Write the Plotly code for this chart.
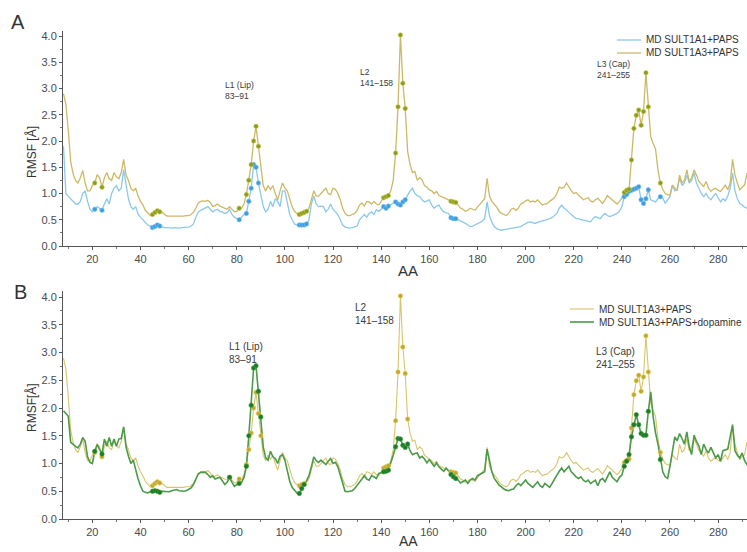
import plotly.graph_objects as go

# Residue numbering shown on the AA axis
residues = list(range(8, 294))

# RMSF per residue [Å]
rmsf_sult1a1_paps = [
    1.90, 1.00, 0.95, 0.90, 0.85, 0.80, 0.80, 0.85, 1.00, 1.05,
    0.85, 0.70, 0.65, 0.70, 0.75, 0.72, 0.68, 0.80, 0.90, 0.80,
    1.00, 1.10, 1.15, 1.05, 1.10, 1.45, 1.20, 0.90, 0.75, 0.70,
    0.75, 0.60, 0.55, 0.50, 0.45, 0.40, 0.38, 0.35, 0.37, 0.40,
    0.38, 0.36, 0.35, 0.35, 0.34, 0.34, 0.35, 0.34, 0.34, 0.35,
    0.35, 0.35, 0.36, 0.38, 0.42, 0.55, 0.65, 0.68, 0.70, 0.72,
    0.75, 0.70, 0.65, 0.68, 0.70, 0.66, 0.65, 0.62, 0.64, 0.70,
    0.60, 0.55, 0.52, 0.50, 0.55, 0.60, 0.62, 0.85, 1.10, 1.55,
    1.50, 1.20, 1.00, 0.75, 0.65, 0.70, 0.85, 0.75, 0.90, 0.85,
    0.75, 1.05, 1.05, 0.85, 0.60, 0.50, 0.42, 0.40, 0.40, 0.40,
    0.40, 0.42, 0.50, 0.80, 0.95, 0.80, 0.75, 0.76, 0.75, 0.65,
    0.70, 0.80, 0.70, 0.65, 0.60, 0.50, 0.40, 0.36, 0.35, 0.34,
    0.35, 0.36, 0.38, 0.50, 0.55, 0.60, 0.55, 0.62, 0.65, 0.60,
    0.69, 0.66, 0.70, 0.75, 0.72, 0.76, 0.78, 0.82, 0.84, 0.80,
    0.78, 0.84, 0.88, 0.97, 1.05, 1.10, 1.00, 0.96, 0.94, 0.88,
    0.84, 0.86, 0.88, 0.78, 0.72, 0.76, 0.78, 0.70, 0.65, 0.63,
    0.62, 0.54, 0.52, 0.52, 0.50, 0.48, 0.45, 0.43, 0.40, 0.37,
    0.38, 0.40, 0.42, 0.44, 0.47, 0.52, 0.84, 0.58, 0.45, 0.37,
    0.33, 0.31, 0.30, 0.31, 0.32, 0.33, 0.33, 0.34, 0.35, 0.36,
    0.37, 0.40, 0.43, 0.45, 0.46, 0.44, 0.43, 0.45, 0.47, 0.48,
    0.49, 0.50, 0.52, 0.54, 0.58, 0.62, 0.72, 0.78, 0.72, 0.69,
    0.64, 0.59, 0.56, 0.52, 0.52, 0.50, 0.49, 0.48, 0.47, 0.46,
    0.52, 0.56, 0.54, 0.52, 0.58, 0.62, 0.58, 0.56, 0.58, 0.60,
    0.62, 0.66, 0.75, 0.94, 0.98, 1.04, 1.06, 1.08, 1.10, 1.13,
    0.88, 0.81, 0.90, 1.07, 0.88, 0.86, 0.84, 0.90, 0.94, 0.92,
    0.81, 0.88, 0.94, 1.16, 1.05, 1.07, 1.30, 1.15, 1.20, 1.35,
    1.20, 1.25, 1.39, 1.20, 1.10, 1.00, 0.94, 1.00, 0.92, 0.88,
    0.95, 1.00, 0.92, 0.84, 0.90, 0.86, 0.95, 1.10, 1.39, 1.05,
    0.90, 0.81, 0.78, 0.74, 0.72, 0.72,
]

rmsf_sult1a3_paps = [
    2.90, 2.70, 2.20, 1.60, 1.38, 1.25, 1.20, 1.30, 1.44, 1.20,
    1.05, 1.05, 1.15, 1.20, 1.36, 1.30, 1.12, 1.30, 1.40, 1.28,
    1.25, 1.40, 1.32, 1.28, 1.40, 1.65, 1.35, 1.25, 1.10, 1.05,
    1.10, 0.95, 0.85, 0.78, 0.68, 0.62, 0.58, 0.60, 0.64, 0.67,
    0.65, 0.64, 0.60, 0.57, 0.57, 0.57, 0.56, 0.57, 0.57, 0.56,
    0.57, 0.58, 0.58, 0.60, 0.64, 0.72, 0.82, 0.85, 0.86, 0.85,
    0.87, 0.83, 0.75, 0.77, 0.80, 0.76, 0.74, 0.72, 0.70, 0.75,
    0.70, 0.65, 0.66, 0.72, 0.72, 0.80, 0.98, 1.25, 1.55, 2.00,
    2.28, 1.90, 1.50, 1.15, 1.05, 1.15, 1.08, 1.15, 1.00, 0.88,
    1.05, 1.20, 1.10, 1.05, 0.90, 0.75, 0.66, 0.62, 0.60, 0.62,
    0.64, 0.66, 0.72, 0.90, 1.05, 0.95, 0.95, 1.00, 1.05, 1.10,
    1.00, 0.98, 1.10, 1.08, 1.00, 0.88, 0.72, 0.62, 0.58, 0.58,
    0.60, 0.62, 0.68, 0.78, 0.82, 0.76, 0.85, 0.84, 0.80, 0.85,
    0.80, 0.78, 0.85, 0.92, 0.94, 0.96, 1.05, 1.25, 1.77, 2.65,
    4.02, 3.10, 2.62, 1.80, 1.55, 1.40, 1.42, 1.25, 1.30, 1.26,
    1.15, 1.12, 1.07, 1.05, 1.00, 1.04, 0.96, 0.94, 0.93, 0.90,
    0.88, 0.85, 0.84, 0.83, 0.78, 0.72, 0.70, 0.66, 0.68, 0.72,
    0.70, 0.68, 0.74, 0.80, 0.84, 0.90, 1.29, 0.95, 0.85, 0.80,
    0.74, 0.66, 0.62, 0.60, 0.58, 0.62, 0.70, 0.72, 0.68, 0.72,
    0.80, 0.82, 0.86, 0.88, 0.84, 0.86, 0.84, 0.88, 0.82, 0.78,
    0.80, 0.81, 0.85, 0.88, 0.92, 1.00, 1.12, 1.10, 1.12, 1.20,
    1.12, 1.05, 1.00, 1.02, 0.97, 0.92, 0.88, 0.90, 0.92, 0.86,
    0.84, 0.88, 0.91, 0.86, 0.81, 0.88, 0.96, 0.92, 0.88, 0.84,
    0.80, 0.85, 0.91, 1.02, 1.06, 1.08, 1.64, 2.24, 2.49, 2.59,
    2.30, 2.56, 3.30, 2.65, 2.08, 1.95, 1.85, 1.45, 1.20, 1.08,
    1.00, 0.98, 0.97, 1.16, 1.10, 1.07, 1.35, 1.20, 1.25, 1.45,
    1.23, 1.30, 1.45, 1.35, 1.23, 1.18, 1.13, 1.23, 1.10, 1.04,
    1.08, 1.10, 1.06, 1.04, 1.10, 1.16, 1.07, 1.20, 1.65, 1.35,
    1.20, 1.07, 1.12, 1.16, 1.39, 1.10,
]

rmsf_sult1a3_paps_dopamine = [
    1.95, 1.90, 1.85, 1.38, 1.34, 1.31, 1.28, 1.35, 1.47, 1.40,
    1.12, 1.02, 1.00, 1.22, 1.34, 1.25, 1.17, 1.44, 1.31, 1.47,
    1.31, 1.44, 1.31, 1.44, 1.45, 1.66, 1.30, 1.13, 1.00, 1.06,
    0.88, 0.72, 0.60, 0.50, 0.48, 0.47, 0.49, 0.50, 0.51, 0.50,
    0.48, 0.50, 0.50, 0.49, 0.49, 0.51, 0.52, 0.53, 0.51, 0.50,
    0.50, 0.51, 0.53, 0.56, 0.62, 0.72, 0.81, 0.84, 0.84, 0.84,
    0.80, 0.75, 0.78, 0.72, 0.74, 0.75, 0.69, 0.62, 0.66, 0.75,
    0.66, 0.59, 0.62, 0.64, 0.66, 0.75, 0.95, 1.50, 2.05, 2.72,
    2.76, 2.30, 1.84, 1.30, 1.10, 1.06, 1.22, 1.12, 1.09, 1.00,
    1.13, 1.16, 1.06, 0.85, 0.68, 0.57, 0.52, 0.47, 0.46, 0.55,
    0.62, 0.69, 0.78, 0.94, 1.12, 1.05, 1.02, 1.06, 1.02, 0.98,
    1.04, 1.09, 1.00, 1.02, 0.94, 0.78, 0.62, 0.50, 0.49, 0.50,
    0.51, 0.55, 0.60, 0.66, 0.72, 0.78, 0.72, 0.70, 0.78, 0.76,
    0.73, 0.82, 0.83, 0.85, 0.86, 0.88, 1.00, 1.15, 1.30, 1.45,
    1.44, 1.33, 1.29, 1.35, 1.23, 1.16, 1.18, 1.19, 1.10, 1.13,
    1.08, 1.01, 1.07, 1.02, 0.95, 1.01, 0.94, 0.90, 0.86, 0.92,
    0.86, 0.80, 0.76, 0.73, 0.70, 0.65, 0.68, 0.70, 0.64, 0.70,
    0.73, 0.70, 0.78, 0.80, 0.82, 0.85, 1.26, 1.05, 0.85, 0.73,
    0.66, 0.61, 0.58, 0.54, 0.52, 0.51, 0.53, 0.54, 0.60, 0.64,
    0.60, 0.66, 0.70, 0.64, 0.60, 0.57, 0.62, 0.67, 0.60, 0.57,
    0.64, 0.60, 0.57, 0.64, 0.73, 0.79, 0.86, 0.92, 0.85, 0.90,
    0.95, 0.85, 0.80, 0.76, 0.73, 0.76, 0.70, 0.67, 0.70, 0.64,
    0.67, 0.70, 0.60, 0.70, 0.73, 0.67, 0.76, 0.85, 0.75, 0.70,
    0.67, 0.75, 0.79, 0.95, 1.04, 1.16, 1.48, 1.70, 1.88, 1.70,
    1.54, 1.51, 1.51, 1.94, 2.29, 1.85, 1.55, 1.35, 1.07, 0.85,
    0.76, 0.73, 0.95, 1.20, 1.48, 1.41, 1.54, 1.45, 1.35, 1.57,
    1.30, 1.16, 1.51, 1.40, 1.32, 1.16, 1.35, 1.25, 1.19, 1.29,
    1.20, 1.10, 1.16, 1.04, 1.23, 1.24, 1.26, 1.48, 1.70, 1.23,
    1.15, 1.10, 1.19, 1.05, 0.98, 1.00,
]

# Highlighted residues (dots) on the curves
key_residues_a = [21, 24, 45, 46, 47, 48, 81, 84, 85, 86, 87, 88, 89,
                  106, 107, 108, 109, 141, 142, 143, 146, 147, 148, 149, 150,
                  169, 170, 171, 241, 242, 243, 244, 245, 246, 247, 248, 249,
                  250, 251, 256]
key_residues_b = [21, 24, 45, 46, 47, 48, 77, 81, 84, 85, 86, 87, 88, 89, 90,
                  106, 107, 108, 141, 142, 143, 146, 147, 148, 149, 150, 151,
                  169, 170, 171, 241, 242, 243, 244, 245, 246, 247, 248, 249,
                  250, 251, 256]

x_ticks = list(range(20, 300, 20))
y_ticks = [0.0, 0.5, 1.0, 1.5, 2.0, 2.5, 3.0, 3.5, 4.0]

# Series names and colours
name_1a1 = "MD SULT1A1+PAPS"
name_1a3 = "MD SULT1A3+PAPS"
name_dop = "MD SULT1A3+PAPS+dopamine"
c_1a1, c_1a3_a, c_1a3_b, c_dop = "#8cc8ea", "#cdb866", "#d8c46c", "#4a9a48"

W, H = 747, 552
FONT = "Liberation Sans, Arial, sans-serif"


def pick(values, keys):
    return [values[residues.index(k)] for k in keys]


def px(xp):
    return xp / W


def py(yp):
    return 1 - yp / H


def dots(color, edge):
    return dict(color=color, size=4.5, line=dict(color=edge, width=0.6))


fig = go.Figure()

# Panel A
fig.add_trace(go.Scatter(x=residues, y=rmsf_sult1a1_paps, mode="lines",
                         name=name_1a1, showlegend=False,
                         line=dict(color=c_1a1, width=1.3),
                         xaxis="x", yaxis="y"))
fig.add_trace(go.Scatter(x=residues, y=rmsf_sult1a3_paps, mode="lines",
                         name=name_1a3, showlegend=False,
                         line=dict(color=c_1a3_a, width=1.3),
                         xaxis="x", yaxis="y"))
fig.add_trace(go.Scatter(x=key_residues_a, y=pick(rmsf_sult1a1_paps, key_residues_a),
                         mode="markers", showlegend=False,
                         marker=dots("#3f9ddb", "#7cc3ee"),
                         xaxis="x", yaxis="y"))
fig.add_trace(go.Scatter(x=key_residues_a, y=pick(rmsf_sult1a3_paps, key_residues_a),
                         mode="markers", showlegend=False,
                         marker=dots("#8c9a22", "#c9d046"),
                         xaxis="x", yaxis="y"))

# Panel B
fig.add_trace(go.Scatter(x=residues, y=rmsf_sult1a3_paps, mode="lines",
                         name=name_1a3, showlegend=False,
                         line=dict(color=c_1a3_b, width=1.1),
                         xaxis="x2", yaxis="y2"))
fig.add_trace(go.Scatter(x=residues, y=rmsf_sult1a3_paps_dopamine, mode="lines",
                         name=name_dop, showlegend=False,
                         line=dict(color=c_dop, width=1.6),
                         xaxis="x2", yaxis="y2"))
fig.add_trace(go.Scatter(x=key_residues_b, y=pick(rmsf_sult1a3_paps, key_residues_b),
                         mode="markers", showlegend=False,
                         marker=dots("#c4a43a", "#e6d64a"),
                         xaxis="x2", yaxis="y2"))
fig.add_trace(go.Scatter(x=key_residues_b, y=pick(rmsf_sult1a3_paps_dopamine, key_residues_b),
                         mode="markers", showlegend=False,
                         marker=dots("#1e7a26", "#3fa040"),
                         xaxis="x2", yaxis="y2"))

axis_common = dict(showgrid=False, zeroline=False, showline=True,
                   linecolor="#555", linewidth=1, ticks="outside",
                   ticklen=3, tickcolor="#555", automargin=False,
                   tickfont=dict(family=FONT, size=11, color="#4a4a4a"))

x_dom = [px(63), 1.0]
xa = dict(axis_common, range=[7.8, 292.0], tickvals=x_ticks, domain=x_dom,
          minor=dict(dtick=10, ticks="outside", ticklen=2, tickcolor="#777"))
ya = dict(axis_common, range=[0, 4.1], tickvals=y_ticks, tickformat=".1f",
          minor=dict(dtick=0.25, ticks="outside", ticklen=2, tickcolor="#777"))

fig.update_layout(
    width=W, height=H,
    margin=dict(l=0, r=0, t=0, b=0),
    paper_bgcolor="white", plot_bgcolor="white",
    font=dict(family=FONT, color="#333"),
    showlegend=False,
    xaxis=dict(xa, anchor="y"),
    yaxis=dict(ya, anchor="x", domain=[py(246), py(246 - 4.1 * 52.5)]),
    xaxis2=dict(xa, anchor="y2"),
    yaxis2=dict(ya, anchor="x2", domain=[py(519), py(519 - 4.1 * 55.5)]),
)

# Legend boxes: a short line sample followed by the series name
legend_rows = [
    (name_1a1, c_1a1, 617, 641, 40, 1.3),
    (name_1a3, c_1a3_a, 617, 641, 53, 1.3),
    (name_1a3, c_1a3_b, 570, 594, 309, 1.1),
    (name_dop, c_dop, 570, 594, 322, 1.6),
]
for label, color, x0, x1, yrow, lw in legend_rows:
    fig.add_shape(type="line", xref="paper", yref="paper",
                  x0=px(x0), x1=px(x1), y0=py(yrow), y1=py(yrow),
                  line=dict(color=color, width=lw))
    fig.add_annotation(text=label, x=px(x1 + 3), y=py(yrow), xref="paper", yref="paper",
                       xanchor="left", yanchor="middle", showarrow=False,
                       font=dict(family=FONT, size=10, color="#333"))

notes = [
    ("A", 18, 22, 20, "#333"),
    ("B", 20, 292, 20, "#333"),
    ("AA", 408, 270, 15, "#333"),
    ("AA", 408, 541, 14, "#333"),
]
for text, xp, yp, size, color in notes:
    fig.add_annotation(text=text, x=px(xp), y=py(yp), xref="paper", yref="paper",
                       xanchor="center", yanchor="middle", showarrow=False,
                       font=dict(family=FONT, size=size, color=color))

loops = [
    ("L1 (Lip)<br>83–91", 223, 91, 8.5),
    ("L2<br>141–158", 358, 78, 8.5),
    ("L3 (Cap)<br>241–255", 595, 69, 8.5),
    ("L1 (Lip)<br>83–91", 227, 353, 10),
    ("L2<br>141–158", 353, 314, 10),
    ("L3 (Cap)<br>241–255", 594, 358, 10),
]
for text, xp, yp, size in loops:
    fig.add_annotation(text=text, x=px(xp), y=py(yp), xref="paper", yref="paper",
                       xanchor="left", yanchor="middle", showarrow=False, align="left",
                       font=dict(family=FONT, size=size, color="#3a3a3a"))

fig.add_annotation(text="RMSF [Å]", x=px(31), y=py(152), xref="paper", yref="paper",
                   textangle=-90, showarrow=False, xanchor="center", yanchor="middle",
                   font=dict(family=FONT, size=12, color="#333"))
fig.add_annotation(text="RMSF[Å]", x=px(31), y=py(408), xref="paper", yref="paper",
                   textangle=-90, showarrow=False, xanchor="center", yanchor="middle",
                   font=dict(family=FONT, size=12, color="#333"))

fig.write_html("out.html")
